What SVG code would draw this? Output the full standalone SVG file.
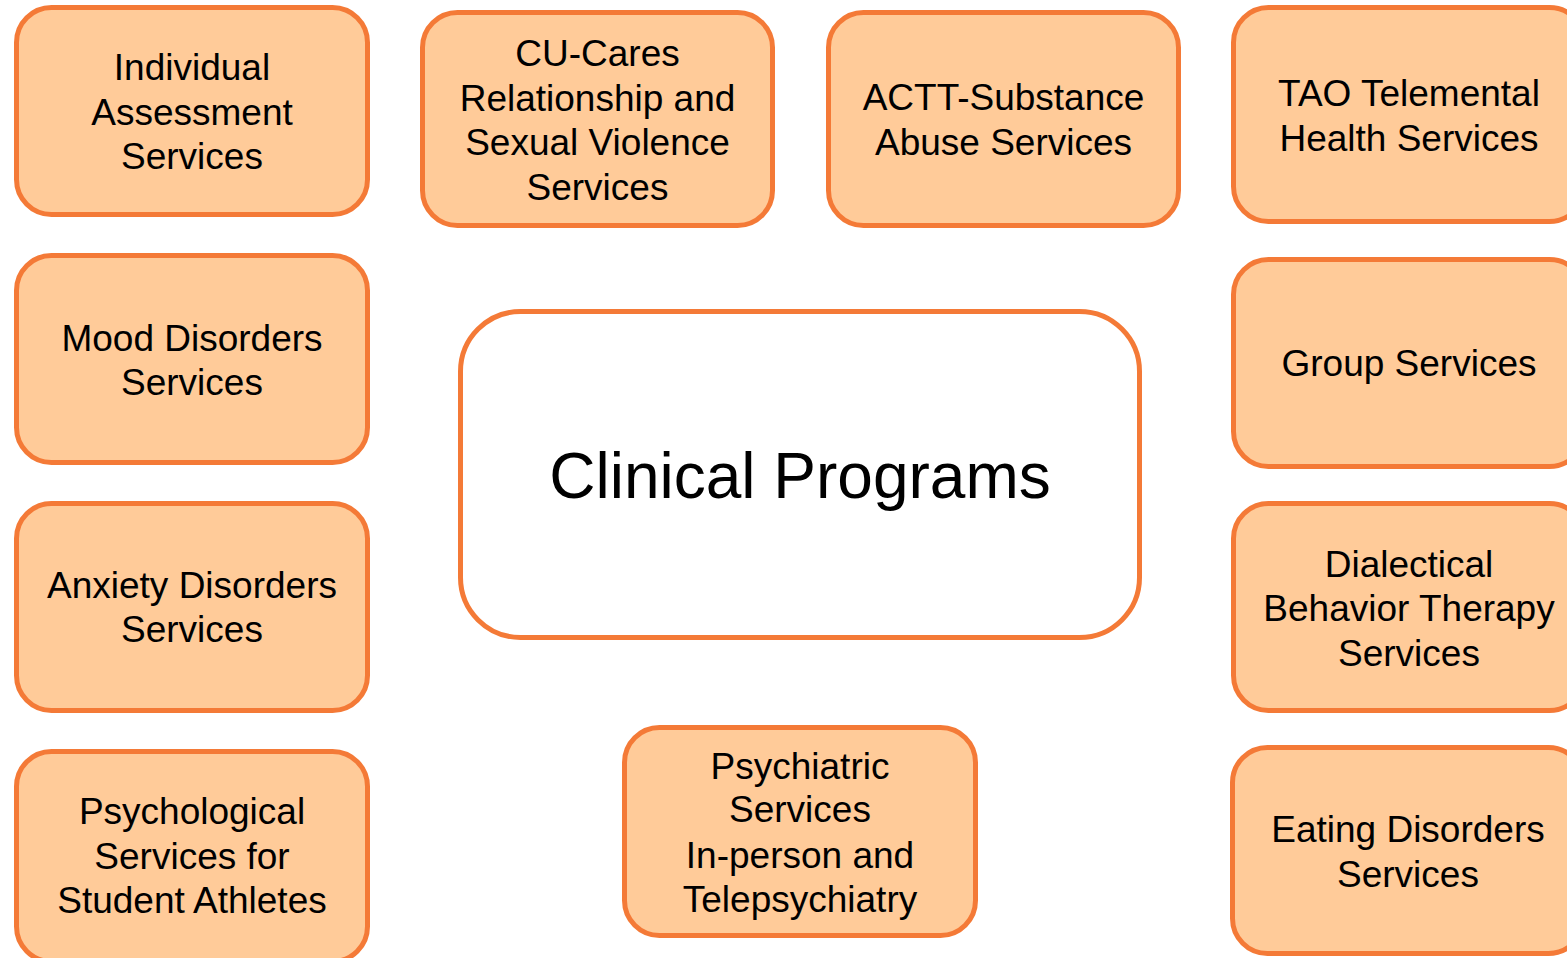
<svg xmlns="http://www.w3.org/2000/svg" width="1567" height="958" viewBox="0 0 1567 958">
  <style>
    .box { fill: #FFCB99; stroke: #F47A37; stroke-width: 5; }
    .hub { fill: #FFFFFF; stroke: #F47A37; stroke-width: 5; }
    .lbl { font-family: "Liberation Sans", Arial, sans-serif; font-size: 37px; fill: #000; text-anchor: middle; }
    .title { font-family: "Liberation Sans", Arial, sans-serif; font-size: 64px; fill: #000; text-anchor: middle; }
  </style>
  <rect width="1567" height="958" fill="#FFFFFF"/>

  <g id="individual-assessment">
    <rect class="box" x="16.5" y="7.5" width="351" height="207" rx="35"/>
    <text class="lbl" x="192" y="80">Individual</text>
    <text class="lbl" x="192" y="124.5">Assessment</text>
    <text class="lbl" x="192" y="169">Services</text>
  </g>

  <g id="cu-cares">
    <rect class="box" x="422.5" y="12.5" width="350" height="213" rx="35"/>
    <text class="lbl" x="597.5" y="66">CU-Cares</text>
    <text class="lbl" x="597.5" y="110.5">Relationship and</text>
    <text class="lbl" x="597.5" y="155">Sexual Violence</text>
    <text class="lbl" x="597.5" y="199.5">Services</text>
  </g>

  <g id="actt">
    <rect class="box" x="828.5" y="12.5" width="350" height="213" rx="35"/>
    <text class="lbl" x="1003.5" y="110">ACTT-Substance</text>
    <text class="lbl" x="1003.5" y="154.5">Abuse Services</text>
  </g>

  <g id="tao">
    <rect class="box" x="1233.5" y="7.5" width="351" height="214" rx="35"/>
    <text class="lbl" x="1409" y="106">TAO Telemental</text>
    <text class="lbl" x="1409" y="150.5">Health Services</text>
  </g>

  <g id="mood-disorders">
    <rect class="box" x="16.5" y="255.5" width="351" height="207" rx="35"/>
    <text class="lbl" x="192" y="351">Mood Disorders</text>
    <text class="lbl" x="192" y="395">Services</text>
  </g>

  <g id="group-services">
    <rect class="box" x="1233.5" y="259.5" width="351" height="207" rx="35"/>
    <text class="lbl" x="1409" y="376">Group Services</text>
  </g>

  <g id="clinical-programs">
    <rect class="hub" x="460.5" y="311.5" width="679" height="326" rx="60"/>
    <text class="title" x="800" y="498">Clinical Programs</text>
  </g>

  <g id="anxiety-disorders">
    <rect class="box" x="16.5" y="503.5" width="351" height="207" rx="35"/>
    <text class="lbl" x="192" y="598">Anxiety Disorders</text>
    <text class="lbl" x="192" y="642">Services</text>
  </g>

  <g id="dbt">
    <rect class="box" x="1233.5" y="503.5" width="351" height="207" rx="35"/>
    <text class="lbl" x="1409" y="576.5">Dialectical</text>
    <text class="lbl" x="1409" y="621">Behavior Therapy</text>
    <text class="lbl" x="1409" y="665.5">Services</text>
  </g>

  <g id="student-athletes">
    <rect class="box" x="16.5" y="751.5" width="351" height="210" rx="35"/>
    <text class="lbl" x="192" y="824">Psychological</text>
    <text class="lbl" x="192" y="868.5">Services for</text>
    <text class="lbl" x="192" y="913">Student Athletes</text>
  </g>

  <g id="psychiatric">
    <rect class="box" x="624.5" y="727.5" width="351" height="208" rx="35"/>
    <text class="lbl" x="800" y="778.5">Psychiatric</text>
    <text class="lbl" x="800" y="822">Services</text>
    <text class="lbl" x="800" y="868">In-person and</text>
    <text class="lbl" x="800" y="912">Telepsychiatry</text>
  </g>

  <g id="eating-disorders">
    <rect class="box" x="1232.5" y="747.5" width="351" height="206" rx="35"/>
    <text class="lbl" x="1408" y="842">Eating Disorders</text>
    <text class="lbl" x="1408" y="886.5">Services</text>
  </g>
</svg>
